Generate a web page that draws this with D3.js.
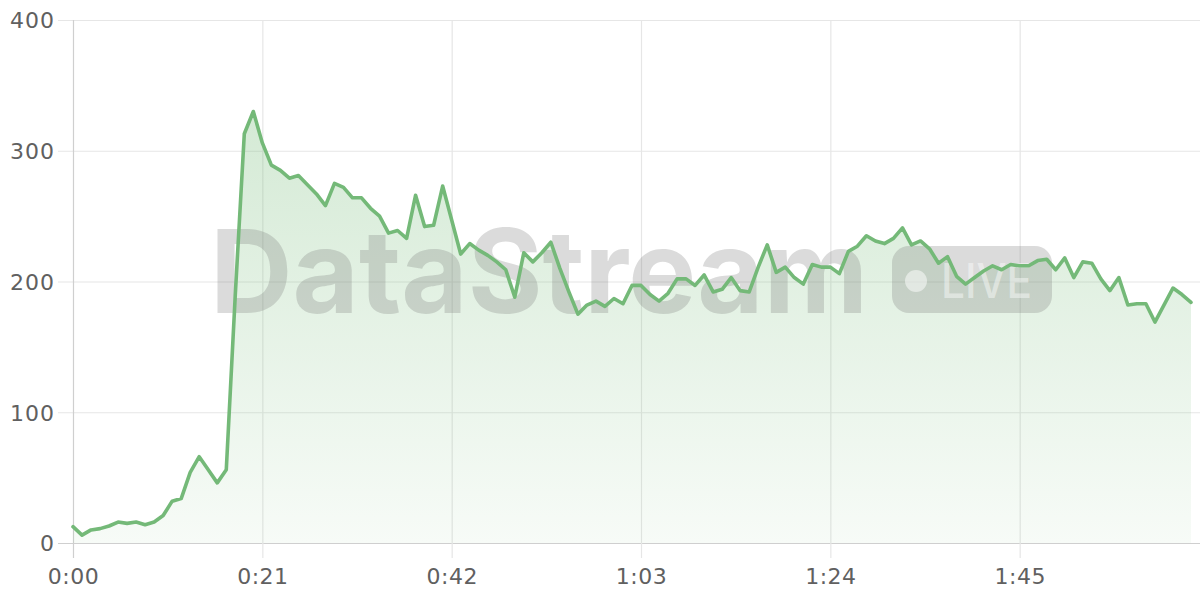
<!DOCTYPE html>
<html>
<head>
<meta charset="utf-8">
<script src="https://cdn.jsdelivr.net/npm/d3@7/dist/d3.min.js"></script>
<style>
  html, body { margin: 0; padding: 0; background: #fff; }
  svg { display: block; }
</style>
</head>
<body>
<svg id="chart" width="1200" height="600"></svg>
<script>
// ---- data (one value per second) ----
const seconds = d3.range(0, 125);
const values = [
  12.5, 6, 10, 11, 13, 16, 15, 16, 14, 16,
  21, 32, 34, 54, 66, 56, 46, 56, 190, 313,
  330, 306, 289, 285, 279, 281, 274, 267, 258, 275,
  272, 264, 264, 256, 250, 237, 239, 233, 266, 242,
  243, 273, 247, 221, 229, 224, 220, 215, 209, 188,
  222, 215, 222, 230, 210, 192, 175, 182, 185, 181,
  187, 183, 197, 197, 190, 185, 191, 202, 202, 197,
  205, 192, 194, 203, 193, 192, 211, 228, 207, 211,
  203, 198, 213, 211, 211, 206, 223, 227, 235, 231,
  229, 233, 241, 228, 231, 225, 214, 219, 204, 198,
  203, 208, 212, 209, 213, 212, 212, 216, 217, 209,
  218, 203, 215, 214, 202, 193, 203, 182, 183, 183,
  169, 182, 195, 190, 184
];
const xTicks = [0, 21, 42, 63, 84, 105];
const yTicks = [0, 100, 200, 300, 400];
const watermarkText = "DataStream";
const badgeText = "LIVE";

const data = seconds.map((s, i) => ({ s, v: values[i] }));

const svg = d3.select("#chart");
const x = d3.scaleLinear().domain([0, 125]).range([73, 1200]);
const y = d3.scaleLinear().domain([0, 400]).range([543, 20]);

const fmt = s => `${Math.floor(s / 60)}:${String(s % 60).padStart(2, "0")}`;

// gradient
const defs = svg.append("defs");
const grad = defs.append("linearGradient")
  .attr("id", "areaGrad").attr("x1", 0).attr("y1", 0).attr("x2", 0).attr("y2", 1);
grad.append("stop").attr("offset", "0%").attr("stop-color", "#79bd7c").attr("stop-opacity", 0.32);
grad.append("stop").attr("offset", "100%").attr("stop-color", "#79bd7c").attr("stop-opacity", 0.06);

// grid
const grid = svg.append("g");
grid.selectAll("line.h").data(yTicks).join("line")
  .attr("x1", 58).attr("x2", 1200)
  .attr("y1", d => y(d) + 0.5).attr("y2", d => y(d) + 0.5)
  .attr("stroke", d => d === 0 ? "#cfcfcf" : "#e6e6e6").attr("stroke-width", 1.2);
grid.selectAll("line.v").data(xTicks).join("line")
  .attr("x1", d => x(d) + 0.5).attr("x2", d => x(d) + 0.5)
  .attr("y1", 20).attr("y2", 558)
  .attr("stroke", d => d === 0 ? "#cfcfcf" : "#e6e6e6").attr("stroke-width", 1.2);

// area
const area = d3.area().x(d => x(d.s)).y0(y(0)).y1(d => y(d.v));
svg.append("path").datum(data).attr("d", area).attr("fill", "url(#areaGrad)");

// watermark
const wm = svg.append("g");
wm.append("text")
  .attr("x", 210).attr("y", 313)
  .attr("font-family", "Inter, 'Liberation Sans', sans-serif")
  .attr("font-weight", 700).attr("font-size", 116)
  .attr("textLength", 658).attr("lengthAdjust", "spacingAndGlyphs")
  .attr("fill", "#707070").attr("fill-opacity", 0.25)
  .text(watermarkText);
wm.append("rect")
  .attr("x", 892).attr("y", 246).attr("width", 160).attr("height", 67).attr("rx", 17)
  .attr("fill", "#707070").attr("fill-opacity", 0.25);
wm.append("circle").attr("cx", 916).attr("cy", 281).attr("r", 11)
  .attr("fill", "#ffffff").attr("fill-opacity", 0.5);
wm.append("text")
  .attr("x", 941).attr("y", 298)
  .attr("font-family", "Inter, 'Liberation Sans', sans-serif")
  .attr("font-weight", 500).attr("font-size", 48)
  .attr("textLength", 91).attr("lengthAdjust", "spacingAndGlyphs")
  .attr("fill", "#ffffff").attr("fill-opacity", 0.45)
  .text(badgeText);

// line
const line = d3.line().x(d => x(d.s)).y(d => y(d.v));
svg.append("path").datum(data).attr("d", line)
  .attr("fill", "none").attr("stroke", "#74b978").attr("stroke-width", 3.6)
  .attr("stroke-linejoin", "round").attr("stroke-linecap", "round");

// axes labels
const yAxis = d3.axisLeft(y).tickValues(yTicks).tickSize(0).tickPadding(0);
const gy = svg.append("g").attr("transform", "translate(55,0)").call(yAxis);
gy.select(".domain").remove();
gy.selectAll("text").attr("font-family", "'DejaVu Sans', sans-serif")
  .attr("font-size", 22).attr("letter-spacing", 1).attr("fill", "#606060").attr("dy", "0.36em");

const xAxis = d3.axisBottom(x).tickValues(xTicks).tickFormat(fmt).tickSize(0).tickPadding(0);
const gx = svg.append("g").attr("transform", "translate(0,572)").call(xAxis);
gx.select(".domain").remove();
gx.selectAll("text").attr("font-family", "'DejaVu Sans', sans-serif")
  .attr("font-size", 22).attr("letter-spacing", 0.5).attr("fill", "#606060").attr("dy", "0.55em");
</script>
</body>
</html>
